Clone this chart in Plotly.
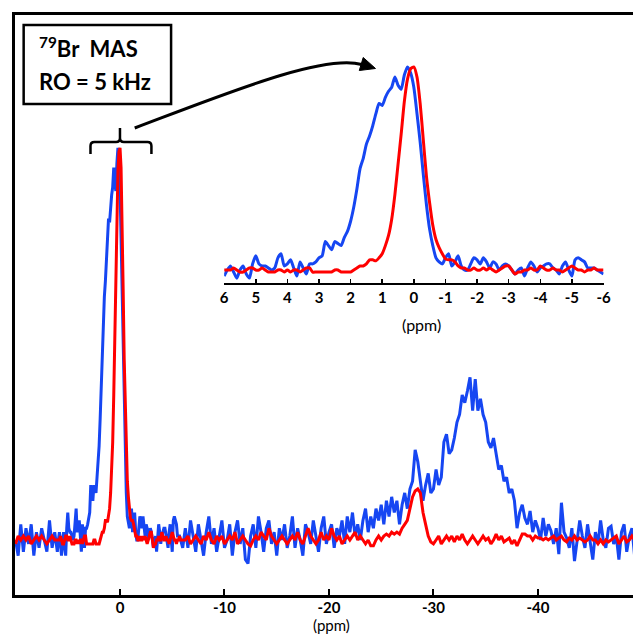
import numpy as np
import plotly.graph_objects as go

W, H = 640, 634

# ---------------- data (normalised intensity) ----------------
# main spectrum, left part: 10.0 -> 6.25 ppm
blue_left = [0.00, -0.04, 0.04, -0.03, 0.03, -0.01, 0.04, -0.04,
             0.02, -0.02, 0.03, 0.00, -0.03, 0.05, -0.02, 0.02]
red_left = [-0.01, 0.01, 0.00, 0.01, 0.00, 0.01, -0.01, 0.00,
            0.01, 0.00, 0.01, 0.00, -0.01, 0.00, 0.01, 0.00]

# central region (also the inset): 6.0 -> -6.0 ppm
blue_inset = [-0.03, 0.00, 0.02, -0.01, -0.04, 0.00, 0.02, -0.02, -0.04, 0.03,
              0.07, 0.03, 0.02, 0.02, 0.01, 0.00, 0.01, 0.06, 0.08, 0.02,
              0.03, 0.05, 0.01, -0.03, 0.04, 0.01, -0.02, 0.03, 0.03, 0.04,
              0.06, 0.07, 0.14, 0.12, 0.10, 0.14, 0.13, 0.12, 0.16, 0.19,
              0.24, 0.31, 0.40, 0.50, 0.55, 0.62, 0.66, 0.71, 0.77, 0.82,
              0.81, 0.85, 0.88, 0.90, 0.95, 0.91, 0.89, 0.96, 1.00, 0.97,
              0.90, 0.77, 0.63, 0.47, 0.32, 0.20, 0.12, 0.06, 0.04, 0.03,
              0.06, 0.08, 0.02, 0.04, 0.07, 0.02, 0.00, 0.00, 0.03, 0.06,
              0.05, 0.03, 0.06, 0.04, 0.01, 0.04, 0.03, 0.00, 0.02, 0.03,
              0.02, 0.00, -0.02, 0.00, 0.01, -0.03, 0.01, 0.04, 0.02, -0.01,
              0.01, 0.02, 0.03, 0.03, 0.01, 0.00, -0.02, 0.02, 0.04, 0.00,
              -0.03, 0.05, 0.06, 0.05, 0.04, 0.01, 0.01, 0.01, 0.00, -0.01,
              -0.02]
red_inset = [0.00, 0.00, 0.00, 0.01, 0.00, -0.01, -0.01, 0.00, 0.01, 0.01,
             0.00, 0.00, 0.01, 0.00, -0.01, -0.01, -0.01, 0.00, 0.00, -0.01,
             0.00, -0.01, 0.00, 0.00, -0.01, 0.00, 0.01, 0.01, -0.01, -0.01,
             -0.01, -0.01, -0.01, -0.01, -0.01, 0.00, 0.00, -0.01, -0.01, -0.01,
             -0.01, 0.00, 0.01, 0.02, 0.02, 0.03, 0.05, 0.05, 0.045, 0.06,
             0.08, 0.12, 0.17, 0.25, 0.37, 0.52, 0.67, 0.83, 0.94, 0.99,
             1.00, 0.95, 0.82, 0.64, 0.46, 0.33, 0.22, 0.15, 0.11, 0.08,
             0.055, 0.05, 0.05, 0.04, 0.02, 0.01, 0.01, 0.00, 0.00, 0.01,
             0.00, 0.00, 0.01, 0.00, 0.01, 0.00, -0.01, 0.00, 0.01, 0.02,
             0.02, 0.00, -0.02, -0.01, -0.01, 0.00, 0.00, 0.01, 0.00, 0.00,
             0.02, 0.01, 0.00, 0.00, 0.01, 0.00, 0.00, -0.01, 0.00, 0.01,
             0.02, 0.01, 0.00, 0.00, -0.01, 0.00, 0.00, 0.01, 0.00, 0.00,
             0.00]

# main spectrum, right part: -6.25 -> -50.0 ppm
blue_right = [0.03, -0.02, 0.05, 0.01, -0.03, 0.04, 0.00, -0.04,
              0.02, 0.06, -0.01, 0.03, -0.03, 0.01, 0.05, -0.02,
              0.00, 0.04, -0.04, 0.02, 0.05, -0.01, 0.03, -0.05,
              -0.06, 0.01, 0.04, -0.02, 0.06, 0.02, -0.03, 0.03,
              0.05, -0.01, 0.02, -0.04, 0.03, 0.00, 0.04, -0.02,
              0.01, 0.06, -0.02, 0.03, 0.00, -0.04, 0.04, 0.02,
              -0.01, 0.05, 0.01, -0.03, 0.03, 0.06, -0.01, 0.02,
              0.04, -0.02, 0.03, 0.01, 0.05, -0.01, 0.06, 0.02,
              0.07, 0.01, 0.04, 0.00, 0.05, 0.08, 0.02, 0.06,
              0.03, 0.08, 0.05, 0.09, 0.04, 0.10, 0.06, 0.11,
              0.07, 0.10, 0.04, 0.09, 0.12, 0.08, 0.13, 0.15,
              0.23, 0.20, 0.15, 0.10, 0.14, 0.17, 0.12, 0.13,
              0.18, 0.14, 0.16, 0.25, 0.27, 0.22, 0.23, 0.26,
              0.30, 0.32, 0.37, 0.35, 0.38, 0.415, 0.33, 0.41,
              0.33, 0.36, 0.32, 0.30, 0.25, 0.235, 0.26, 0.22,
              0.18, 0.19, 0.15, 0.16, 0.12, 0.13, 0.10, 0.03,
              0.07, 0.09, 0.056, 0.04, 0.074, 0.02, 0.05, 0.03,
              0.00, 0.056, 0.01, 0.04, 0.023, -0.01, 0.03, -0.036,
              0.095, 0.02, 0.005, -0.02, 0.03, -0.054, 0.00, 0.05,
              0.01, -0.02, 0.04, 0.00, -0.05, 0.02, -0.01, 0.05,
              0.00, -0.02, 0.03, 0.035, -0.01, 0.01, -0.05, 0.02,
              0.04, -0.03, 0.01, 0.03, -0.04, 0.02, 0.00, 0.01]
red_right = [0.00, 0.01, -0.01, 0.00, 0.01, 0.00, -0.01, 0.01,
             0.00, 0.02, 0.00, -0.01, 0.01, 0.00, 0.01, -0.01,
             0.00, 0.01, 0.00, 0.02, -0.01, 0.00, 0.01, 0.00,
             -0.01, -0.015, 0.00, 0.01, 0.00, 0.02, 0.01, 0.00,
             0.03, 0.01, 0.00, -0.01, 0.00, 0.01, 0.00, -0.01,
             0.00, 0.01, 0.00, 0.02, 0.00, -0.01, 0.01, 0.03,
             0.01, 0.00, -0.01, 0.00, 0.02, 0.00, 0.01, 0.00,
             0.03, 0.01, 0.00, 0.01, -0.01, 0.00, 0.01, 0.00,
             0.01, 0.02, 0.00, 0.01, 0.00, -0.01, 0.00, -0.015,
             -0.015, 0.00, 0.01, 0.00, 0.01, 0.015, 0.01, 0.02,
             0.015, 0.02, 0.015, 0.03, 0.04, 0.05, 0.08, 0.11,
             0.125, 0.13, 0.12, 0.07, 0.04, 0.01, -0.005, -0.01,
             0.00, 0.01, -0.01, 0.00, 0.01, 0.00, 0.01, -0.005,
             0.01, 0.00, 0.015, 0.00, -0.01, 0.00, 0.01, 0.00,
             -0.01, 0.00, 0.01, 0.00, 0.005, -0.01, 0.00, 0.015,
             0.00, 0.01, -0.005, 0.00, 0.005, -0.01, 0.00, -0.015,
             0.00, 0.015, 0.015, 0.01, 0.01, 0.00, 0.01, 0.005,
             0.005, 0.00, 0.005, 0.00, 0.005, 0.01, 0.00, 0.005,
             0.01, 0.00, -0.005, 0.005, 0.00, 0.01, 0.00, 0.005,
             0.00, -0.005, 0.00, 0.01, 0.00, 0.00, -0.01, 0.00,
             -0.01, 0.00, -0.005, 0.00, 0.005, 0.01, -0.01, 0.00,
             0.01, -0.005, 0.00, 0.01, 0.00, 0.00, 0.005, 0.00]

main_ticks = [0, -10, -20, -30, -40]
main_ticklabels = ["0", "-10", "-20", "-30", "-40"]
inset_ticks = [6, 5, 4, 3, 2, 1, 0, -1, -2, -3, -4, -5, -6]
inset_ticklabels = ["6", "5", "4", "3", "2", "1", "0", "-1", "-2", "-3", "-4", "-5", "-6"]

# sampling axes (uniform ppm grids)
def grid(a, b, vals):
    return np.linspace(a, b, len(vals))

xb = np.concatenate([grid(10.0, 6.25, blue_left), grid(6.0, -6.0, blue_inset), grid(-6.25, -50.0, blue_right)])
yb = np.concatenate([blue_left, blue_inset, blue_right])
xr = np.concatenate([grid(10.0, 6.25, red_left), grid(6.0, -6.0, red_inset), grid(-6.25, -50.0, red_right)])
yr = np.concatenate([red_left, red_inset, red_right])

BLUE = "#1646f2"
RED = "#ff0000"
FONT = "Lato"

def px(x):
    return x / W

def py(y):
    return 1 - y / H

fig = go.Figure()
fig.add_trace(go.Scatter(x=xb, y=yb, mode="lines", line=dict(color=BLUE, width=3),
                         xaxis="x", yaxis="y", showlegend=False, hoverinfo="skip"))
fig.add_trace(go.Scatter(x=xr, y=yr, mode="lines", line=dict(color=RED, width=3),
                         xaxis="x", yaxis="y", showlegend=False, hoverinfo="skip"))
fig.add_trace(go.Scatter(x=grid(6.0, -6.0, blue_inset), y=blue_inset, mode="lines",
                         line=dict(color=BLUE, width=3, shape="spline", smoothing=0.6),
                         xaxis="x2", yaxis="y2", showlegend=False, hoverinfo="skip"))
fig.add_trace(go.Scatter(x=grid(6.0, -6.0, red_inset), y=red_inset, mode="lines",
                         line=dict(color=RED, width=3, shape="spline", smoothing=0.6),
                         xaxis="x2", yaxis="y2", showlegend=False, hoverinfo="skip"))

fig.update_layout(
    width=W, height=H, autosize=False,
    margin=dict(l=0, r=0, t=0, b=0),
    paper_bgcolor="white", plot_bgcolor="rgba(0,0,0,0)",
    font=dict(family=FONT, color="black"),
    xaxis=dict(domain=[px(11), 1.0], range=[10.07, -49.1], anchor="y",
               showline=True, linecolor="black", linewidth=3, mirror=True,
               ticks="inside", ticklen=6, tickwidth=2, tickcolor="black",
               tickmode="array", tickvals=main_ticks,
               ticktext=["<b>%s</b>" % t for t in main_ticklabels],
               tickfont=dict(size=15, family=FONT, color="black"),
               ticklabelstandoff=-3,
               showgrid=False, zeroline=False),
    yaxis=dict(domain=[py(595), py(15)], range=[-0.1403, 1.339], anchor="x",
               showline=True, linecolor="black", linewidth=3,
               showticklabels=False, ticks="", showgrid=False, zeroline=False),
    xaxis2=dict(domain=[px(224), px(610)], range=[6, -6], anchor="y2",
                showline=True, linecolor="black", linewidth=2,
                ticks="inside", ticklen=4, tickwidth=1.5, tickcolor="black",
                tickmode="array", tickvals=inset_ticks,
                ticktext=["<b>%s</b>" % t for t in inset_ticklabels],
                tickfont=dict(size=15, family=FONT, color="black"),
                showgrid=False, zeroline=False),
    yaxis2=dict(domain=[py(283), py(60)], range=[-0.064, 1.034], anchor="x2",
                visible=False),
)

# axis titles
fig.add_annotation(x=px(333), y=py(625), xref="paper", yref="paper", text="(ppm)",
                   showarrow=False, font=dict(size=15, family=FONT, color="black"),
                   xanchor="center", yanchor="middle")
fig.add_annotation(x=px(425), y=py(324), xref="paper", yref="paper", text="(ppm)",
                   showarrow=False, font=dict(size=16, family=FONT, color="black"),
                   xanchor="center", yanchor="middle")

# text box
fig.add_shape(type="rect", xref="paper", yref="paper",
              x0=px(20), x1=px(170), y0=py(104), y1=py(25),
              line=dict(color="black", width=2.5), fillcolor="white")
fig.add_annotation(x=px(34), y=py(48), xref="paper", yref="paper",
                   text="<b><sup>79</sup>Br  MAS</b>", showarrow=False,
                   font=dict(size=22, family=FONT, color="black"),
                   xanchor="left", yanchor="middle")
fig.add_annotation(x=px(34), y=py(82), xref="paper", yref="paper",
                   text="<b>RO = 5 kHz</b>", showarrow=False,
                   font=dict(size=22, family=FONT, color="black"),
                   xanchor="left", yanchor="middle")

def path(cmds):
    out = []
    for c in cmds:
        if isinstance(c, str):
            out.append(c)
        else:
            out.append("%.5f,%.5f" % (px(c[0]), py(c[1])))
    return " ".join(out)

# bracket over the central peak
bracket = path(["M", (88, 154), "L", (88, 146), "Q", (88, 142), (92, 142), "L", (114, 142),
                "Q", (118, 142), (118, 138), "L", (118, 128),
                "M", (118, 138), "Q", (118, 142), (122, 142), "L", (146, 142),
                "Q", (150, 142), (150, 146), "L", (150, 154)])
fig.add_shape(type="path", xref="paper", yref="paper", path=bracket,
              line=dict(color="black", width=2.5))

# curved arrow towards the inset
curve = path(["M", (133, 128), "C", (230, 92), (325, 54), (364, 64.5)])
fig.add_shape(type="path", xref="paper", yref="paper", path=curve,
              line=dict(color="black", width=3))
head = path(["M", (378, 68.5), "L", (361.5, 70.5), "L", (365.5, 57.5), "Z"])
fig.add_shape(type="path", xref="paper", yref="paper", path=head,
              line=dict(color="black", width=1), fillcolor="black")

fig.write_html("out.html",
               config={"displayModeBar": False, "staticPlot": True},
               post_script="document.documentElement.style.margin='0px';"
                           "document.body.style.margin='0px';"
                           "document.body.style.overflow='hidden';")
